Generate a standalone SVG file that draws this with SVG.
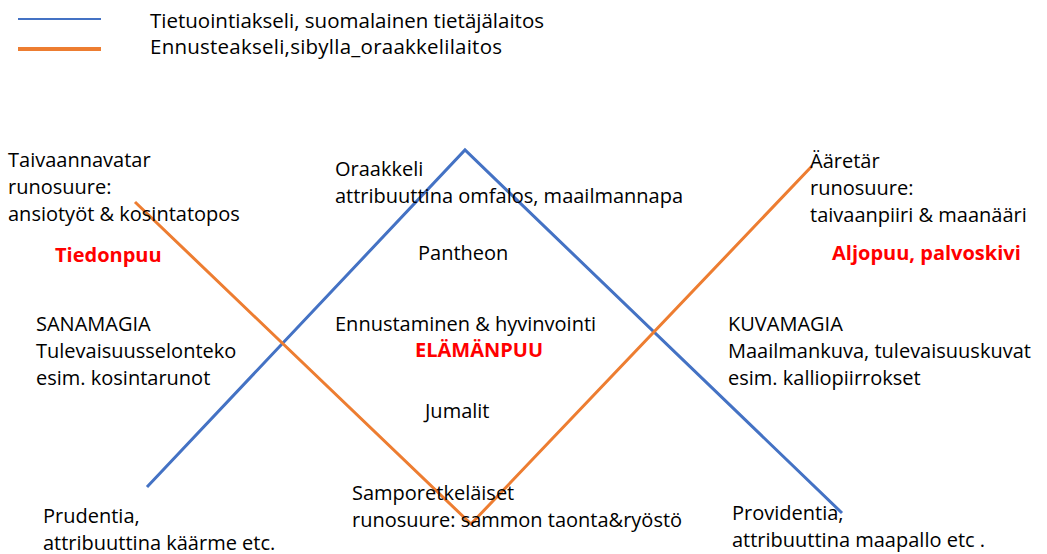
<svg xmlns="http://www.w3.org/2000/svg" width="1047" height="554" viewBox="0 0 1047 554">
<style>
text{font-family:"Open Sans",Lato,"Liberation Sans",sans-serif;font-size:20px;fill:#000}
.leg{font-size:20.5px}
.red{fill:#FF0000;font-weight:bold}
.blue{stroke:#4472C4;stroke-width:3;fill:none}
.orange{stroke:#ED7D31;stroke-width:3;fill:none}
</style>
<rect width="1047" height="554" fill="#fff"/>
<g id="legend">
<line class="blue" x1="18" y1="19" x2="101" y2="19" style="stroke-width:2"/>
<line class="orange" x1="18" y1="49" x2="101" y2="49" style="stroke-width:4"/>
<text class="leg" x="150" y="28">Tietuointiakseli, suomalainen tietäjälaitos</text>
<text class="leg" x="150" y="54" textLength="352">Ennusteakseli,sibylla_oraakkelilaitos</text>
</g>
<g id="connectors">
<polyline class="blue" points="147,487 465,150 842,513"/>
<polyline class="orange" points="135,202 471,524 812,166"/>
</g>
<g id="taivaannavatar">
<text x="8" y="167">Taivaannavatar</text>
<text x="8" y="194">runosuure:</text>
<text x="8" y="221">ansiotyöt &amp; kosintatopos</text>
<text class="red" x="55" y="262">Tiedonpuu</text>
</g>
<g id="oraakkeli">
<text x="335" y="176">Oraakkeli</text>
<text x="335" y="203">attribuuttina omfalos, maailmannapa</text>
<text x="418" y="260">Pantheon</text>
</g>
<g id="aaretar">
<text x="810" y="168">Ääretär</text>
<text x="810" y="195">runosuure:</text>
<text x="810" y="222">taivaanpiiri &amp; maanääri</text>
<text class="red" x="832" y="260">Aljopuu, palvoskivi</text>
</g>
<g id="sanamagia">
<text x="36" y="331">SANAMAGIA</text>
<text x="36" y="358">Tulevaisuusselonteko</text>
<text x="36" y="385">esim. kosintarunot</text>
</g>
<g id="ennustaminen">
<text x="335" y="331">Ennustaminen &amp; hyvinvointi</text>
<text class="red" x="415" y="357">ELÄMÄNPUU</text>
<text x="425" y="418">Jumalit</text>
</g>
<g id="kuvamagia">
<text x="728" y="331">KUVAMAGIA</text>
<text x="728" y="358">Maailmankuva, tulevaisuuskuvat</text>
<text x="728" y="385">esim. kalliopiirrokset</text>
</g>
<g id="prudentia">
<text x="43" y="523">Prudentia,</text>
<text x="43" y="550">attribuuttina käärme etc.</text>
</g>
<g id="samporetkelaiset">
<text x="352" y="500">Samporetkeläiset</text>
<text x="352" y="527">runosuure: sammon taonta&amp;ryöstö</text>
</g>
<g id="providentia">
<text x="732" y="520">Providentia,</text>
<text x="732" y="547">attribuuttina maapallo etc .</text>
</g>
</svg>
